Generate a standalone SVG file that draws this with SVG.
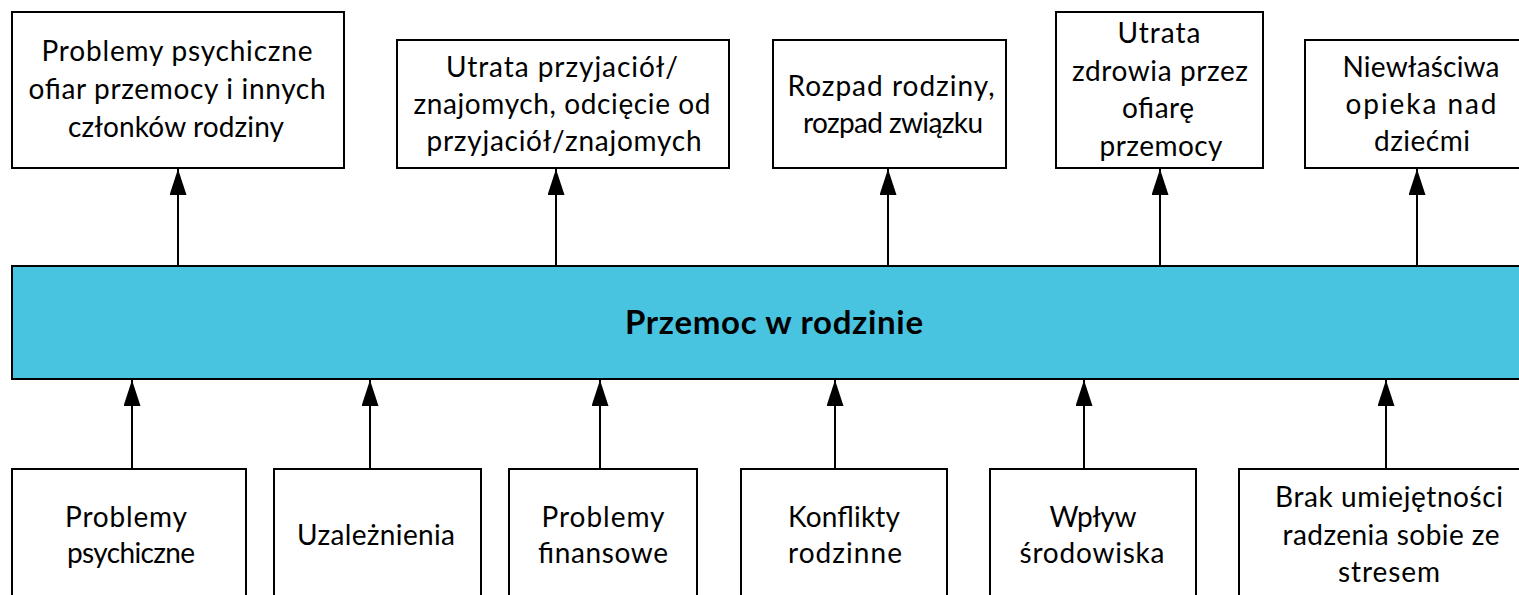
<svg xmlns="http://www.w3.org/2000/svg" width="1519" height="595" viewBox="0 0 1519 595">
<style>
.box{fill:#fff;stroke:#000;stroke-width:2}
.bar{fill:#48C4E0;stroke:#000;stroke-width:2}
.t{font-family:Lato,"Liberation Sans",sans-serif;font-size:28px;fill:#000;text-anchor:middle}
.tb{font-family:Lato,"Liberation Sans",sans-serif;font-size:33px;font-weight:bold;fill:#000;text-anchor:middle}
.c{stroke:#000;stroke-width:2;fill:none;marker-end:url(#ah)}
</style>
<defs>
<marker id="ah" viewBox="0 0 26 17" refX="26" refY="8.5" markerWidth="26" markerHeight="17" markerUnits="userSpaceOnUse" orient="auto">
<path d="M0,0 L26,8.5 L0,17 z" fill="#000"/>
</marker>
</defs>
<rect width="1519" height="595" fill="#fff"/>

<g id="connectors">
<line class="c" x1="178" y1="266" x2="178" y2="169"/>
<line class="c" x1="556" y1="266" x2="556" y2="169"/>
<line class="c" x1="888" y1="266" x2="888" y2="169"/>
<line class="c" x1="1160" y1="266" x2="1160" y2="169"/>
<line class="c" x1="1417" y1="266" x2="1417" y2="169"/>
<line class="c" x1="132" y1="469" x2="132" y2="380"/>
<line class="c" x1="370" y1="469" x2="370" y2="380"/>
<line class="c" x1="600" y1="469" x2="600" y2="380"/>
<line class="c" x1="835" y1="469" x2="835" y2="380"/>
<line class="c" x1="1084" y1="469" x2="1084" y2="380"/>
<line class="c" x1="1386" y1="469" x2="1386" y2="380"/>
</g>

<g id="center">
<rect class="bar" x="12" y="266" width="1530" height="113"/>
<text class="tb" x="774" y="334" textLength="298" lengthAdjust="spacing">Przemoc w rodzinie</text>
</g>

<g id="top1">
<rect class="box" x="12" y="12" width="332" height="156"/>
<text class="t" x="177" y="61" textLength="271" lengthAdjust="spacing">Problemy psychiczne</text>
<text class="t" x="177" y="99" textLength="297" lengthAdjust="spacing">ofiar przemocy i innych</text>
<text class="t" x="176" y="137" textLength="216" lengthAdjust="spacing">członków rodziny</text>
</g>

<g id="top2">
<rect class="box" x="397" y="40" width="332" height="128"/>
<text class="t" x="562" y="77" textLength="232" lengthAdjust="spacing">Utrata przyjaciół/</text>
<text class="t" x="562" y="114" textLength="297" lengthAdjust="spacing">znajomych, odcięcie od</text>
<text class="t" x="564" y="151" textLength="275" lengthAdjust="spacing">przyjaciół/znajomych</text>
</g>

<g id="top3">
<rect class="box" x="773" y="40" width="233" height="128"/>
<text class="t" x="891" y="96" textLength="207" lengthAdjust="spacing">Rozpad rodziny,</text>
<text class="t" x="893" y="133" textLength="180" lengthAdjust="spacing">rozpad związku</text>
</g>

<g id="top4">
<rect class="box" x="1056" y="12" width="207" height="156"/>
<text class="t" x="1159" y="43" textLength="83" lengthAdjust="spacing">Utrata</text>
<text class="t" x="1160" y="81" textLength="176" lengthAdjust="spacing">zdrowia przez</text>
<text class="t" x="1158" y="118" textLength="72" lengthAdjust="spacing">ofiarę</text>
<text class="t" x="1161" y="156" textLength="123" lengthAdjust="spacing">przemocy</text>
</g>

<g id="top5">
<rect class="box" x="1305" y="40" width="232" height="128"/>
<text class="t" x="1421" y="77" textLength="157" lengthAdjust="spacing">Niewłaściwa</text>
<text class="t" x="1421" y="114" textLength="151" lengthAdjust="spacing">opieka nad</text>
<text class="t" x="1422" y="151" textLength="96" lengthAdjust="spacing">dziećmi</text>
</g>

<g id="bottom1">
<rect class="box" x="12" y="469" width="234" height="140"/>
<text class="t" x="126" y="527" textLength="122" lengthAdjust="spacing">Problemy</text>
<text class="t" x="131" y="563" textLength="128" lengthAdjust="spacing">psychiczne</text>
</g>

<g id="bottom2">
<rect class="box" x="274" y="469" width="207" height="140"/>
<text class="t" x="376" y="545" textLength="158" lengthAdjust="spacing">Uzależnienia</text>
</g>

<g id="bottom3">
<rect class="box" x="509" y="469" width="188" height="140"/>
<text class="t" x="603" y="527" textLength="123" lengthAdjust="spacing">Problemy</text>
<text class="t" x="603" y="563" textLength="130" lengthAdjust="spacing">finansowe</text>
</g>

<g id="bottom4">
<rect class="box" x="741" y="469" width="206" height="140"/>
<text class="t" x="844" y="527" textLength="112" lengthAdjust="spacing">Konflikty</text>
<text class="t" x="845" y="563" textLength="114" lengthAdjust="spacing">rodzinne</text>
</g>

<g id="bottom5">
<rect class="box" x="990" y="469" width="206" height="140"/>
<text class="t" x="1093" y="527" textLength="87" lengthAdjust="spacing">Wpływ</text>
<text class="t" x="1092" y="563" textLength="145" lengthAdjust="spacing">środowiska</text>
</g>

<g id="bottom6">
<rect class="box" x="1239" y="469" width="300" height="140"/>
<text class="t" x="1389" y="507" textLength="228" lengthAdjust="spacing">Brak umiejętności</text>
<text class="t" x="1391" y="545" textLength="217" lengthAdjust="spacing">radzenia sobie ze</text>
<text class="t" x="1389" y="582" textLength="102" lengthAdjust="spacing">stresem</text>
</g>
</svg>
